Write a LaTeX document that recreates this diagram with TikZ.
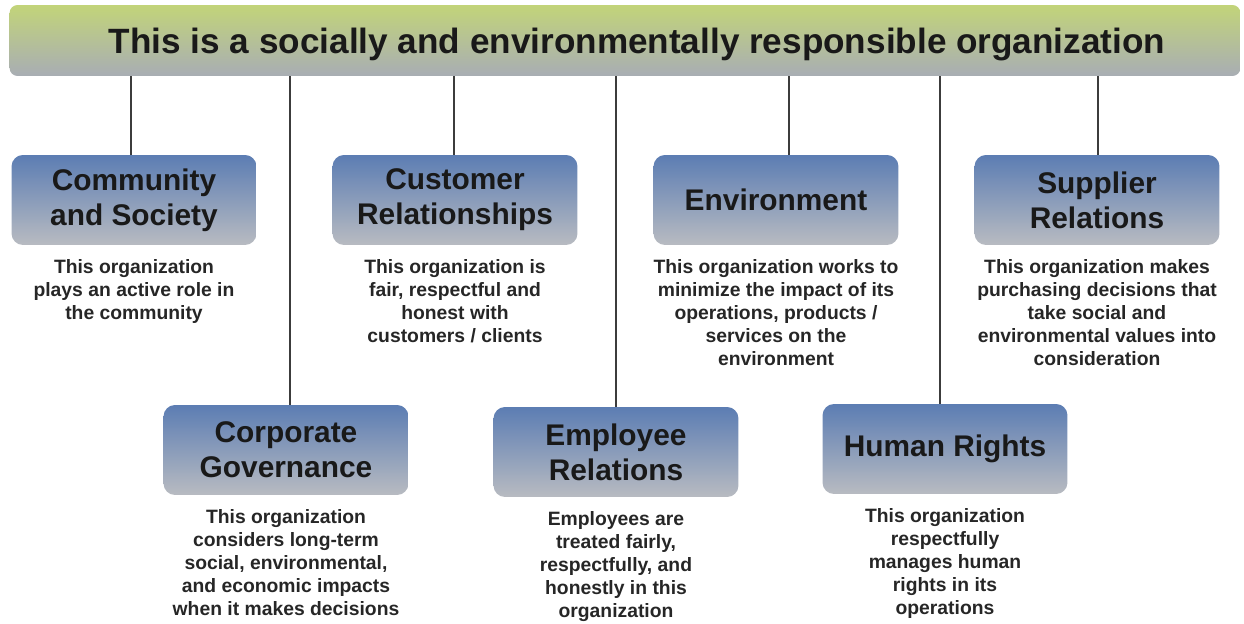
\documentclass[tikz,border=0pt]{standalone}
\usepackage{fontspec}
\setmainfont{Liberation Sans}
\usetikzlibrary{positioning}

\definecolor{bargreen}{HTML}{C2D479}
\definecolor{bargray}{HTML}{A8ADB4}
\definecolor{boxblue}{HTML}{5C7DB3}
\definecolor{boxgray}{HTML}{B8BBC1}
\definecolor{linegray}{HTML}{3C3C3C}

\tikzset{
  headbar/.style={rounded corners=4.5pt, top color=bargreen, bottom color=bargray,
    minimum width=24.62cm, minimum height=1.42cm, inner sep=0pt},
  areabox/.style={rounded corners=6.5pt, top color=boxblue, bottom color=boxgray,
    minimum width=4.9cm, minimum height=1.8cm, inner sep=0pt, align=center,
    text=black!90, font=\fontsize{17}{20}\selectfont\bfseries},
  areatext/.style={align=center, inner sep=0pt, text=black!85,
    font=\fontsize{11}{13}\selectfont\bfseries},
  stem/.style={draw=linegray, line width=0.85pt}
}

\begin{document}
\begin{tikzpicture}[x=0.02cm, y=-0.02cm]
\useasboundingbox (0,0) rectangle (1244,624);

\node[headbar] (bar) at (625,40.5) {};
\node[font=\fontsize{20}{24}\selectfont\bfseries, text=black!90] (title) at (637,44)
  {This is a socially and environmentally responsible organization};

% box / centre x / centre y / stem x / heading / description
\foreach \nm/\bx/\by/\lx/\ttl/\dsc in {
  comm/134/200/131/{Community\\and Society}/{This organization\\plays an active role in\\the community},
  corp/286/450/290/{Corporate\\Governance}/{This organization\\considers long-term\\social, environmental,\\and economic impacts\\when it makes decisions},
  cust/455/200/454/{Customer\\Relationships}/{This organization is\\fair, respectful and\\honest with\\customers / clients},
  empl/616/452/616/{Employee\\Relations}/{Employees are\\treated fairly,\\respectfully, and\\honestly in this\\organization},
  env/776/200/789/{Environment}/{This organization works to\\minimize the impact of its\\operations, products /\\services on the\\environment},
  hr/945/449/940/{Human Rights}/{This organization\\respectfully\\manages human\\rights in its\\operations},
  supp/1097/200/1098/{Supplier\\Relations}/{This organization makes\\purchasing decisions that\\take social and\\environmental values into\\consideration}}
{
  \node[areabox] (\nm) at (\bx,\by) {\ttl};
  \node[areatext, below=8pt of \nm] (\nm-txt) {\dsc};
  \draw[stem] (bar.south -| \lx,0) -- (\nm.north -| \lx,0);
}

\end{tikzpicture}
\end{document}
